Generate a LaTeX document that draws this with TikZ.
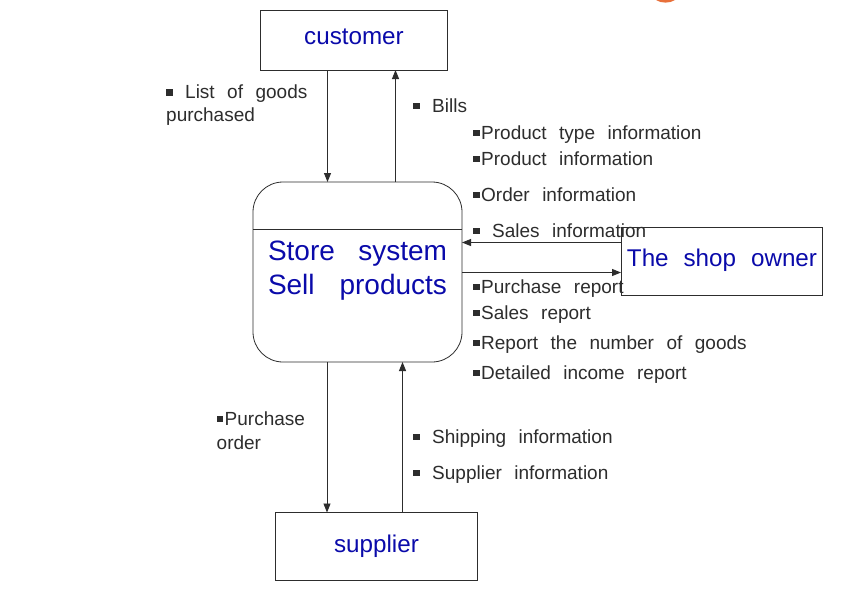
\documentclass[tikz,border=0pt]{standalone}
\usepackage{fontspec}
\usetikzlibrary{arrows.meta}
\setmainfont{Liberation Sans}
\definecolor{ttlblue}{RGB}{10,10,170}
\definecolor{ink}{RGB}{45,45,45}
\definecolor{dot}{RGB}{232,112,58}
\newcommand{\bu}{\rule[3pt]{6.5pt}{6.5pt}}
\newcommand{\lblfnt}{\fontsize{19}{24}\selectfont\spaceskip 12.5pt plus 1pt minus 1pt\relax}
\newcommand{\ttlfnt}{\fontsize{24.2}{30}\selectfont\spaceskip 15pt plus 1pt minus 1pt\relax}
\newcommand{\bigfnt}{\fontsize{28}{34}\selectfont}
\begin{document}
\begin{tikzpicture}[x=1pt,y=-1pt,
  box/.style={draw=ink,line width=0.8pt},
  lbl/.style={anchor=base west,inner sep=0pt,text=ink,font=\lblfnt},
  ttl/.style={anchor=base,inner sep=0pt,text=ttlblue,font=\ttlfnt},
  big/.style={anchor=base,inner sep=0pt,text=ttlblue,font=\bigfnt},
  flow/.style={draw=ink,line width=0.8pt,-{Triangle[length=9pt,width=7pt]}}]
\useasboundingbox (0,0) rectangle (856,613);
\fill[white] (0,0) rectangle (856,613);
% orange fragment at top
\fill[dot] (656,0) .. controls (661,3.5) and (670,3.5) .. (675,0) -- cycle;
% boxes
\draw[box] (260,10) rectangle (447,70);
\coordinate (custL) at (327.5,70); \coordinate (custR) at (395.5,70);
\draw[box,rounded corners=30pt] (253,182) rectangle (462,362);
\draw[box] (253,229) -- (462,229);
\coordinate (stTL) at (327.5,182); \coordinate (stTR) at (395.5,182);
\coordinate (stBL) at (327,362); \coordinate (stBR) at (402.5,362);
\coordinate (stR1) at (462,242.5); \coordinate (stR2) at (462,272.5);
\draw[box] (621,227) rectangle (822,295);
\coordinate (shL1) at (621,242.5); \coordinate (shL2) at (621,272.5);
\draw[box] (275.5,512.5) rectangle (477,580);
\coordinate (supL) at (327,512.5); \coordinate (supR) at (402.5,512.5);
% titles
\node[ttl] (customer) at (354,44) {customer};
\node[ttl] (supplier) at (376.5,552) {supplier};
\node[ttl] (owner) at (722,266) {The shop owner};
\node[big] (store1) at (357.5,260) {\hbox to 179pt{Store\hfill system}};
\node[big] (store2) at (357.5,294) {\hbox to 179pt{Sell\hfill products}};
% connectors
\draw[flow] (custL) -- (stTL);
\draw[flow] (stTR) -- (custR);
\draw[flow] (shL1) -- (stR1);
\draw[flow] (stR2) -- (shL2);
\draw[flow] (stBL) -- (supL);
\draw[flow] (supR) -- (stBR);
% labels
\node[lbl] (l1) at (166,98.5) {\bu{} List of goods};
\node[lbl] (l1b) at (166,121) {purchased};
\node[lbl] (l2) at (413,112) {\bu{} Bills};
\node[lbl] (l3) at (473,139) {\bu\kern1.5pt Product type information};
\node[lbl] (l4) at (473,165) {\bu\kern1.5pt Product information};
\node[lbl] (l5) at (473,201) {\bu\kern1.5pt Order information};
\node[lbl] (l6) at (473,237) {\bu{} Sales information};
\node[lbl] (l7) at (473,293) {\bu\kern1.5pt Purchase report};
\node[lbl] (l8) at (473,319) {\bu\kern1.5pt Sales report};
\node[lbl] (l9) at (473,349) {\bu\kern1.5pt Report the number of goods};
\node[lbl] (l10) at (473,379) {\bu\kern1.5pt Detailed income report};
\node[lbl] (l11) at (216.5,425) {\bu\kern1.5pt Purchase};
\node[lbl] (l11b) at (216.5,449) {order};
\node[lbl] (l12) at (413,443) {\bu{} Shipping information};
\node[lbl] (l13) at (413,479) {\bu{} Supplier information};
\end{tikzpicture}
\end{document}
